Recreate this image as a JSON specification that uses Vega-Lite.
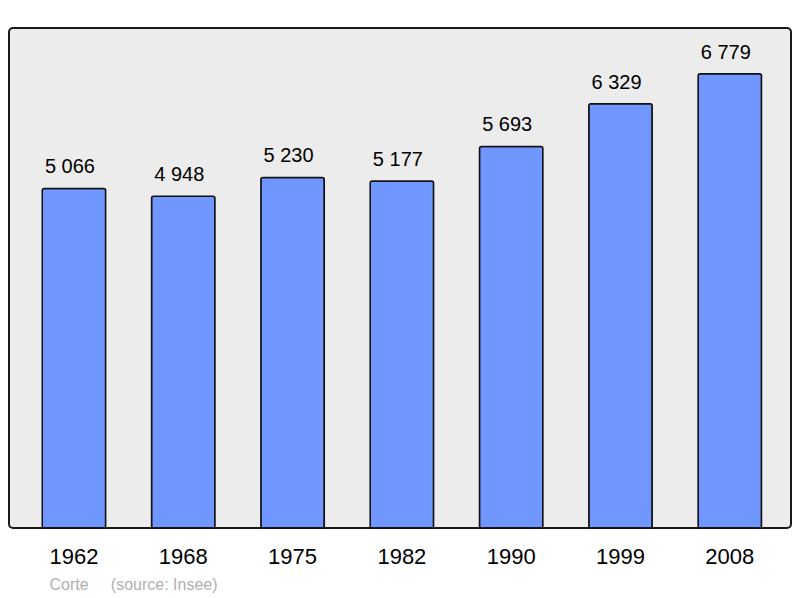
{
  "$schema": "https://vega.github.io/schema/vega-lite/v6.json",
  "width": 782,
  "height": 500,
  "autosize": "none",
  "padding": {"left": 9, "top": 28, "right": 9, "bottom": 70},
  "background": "white",
  "config": {
    "locale": {"number": {"decimal": ",", "thousands": "\u00a0", "grouping": [3], "currency": ["", " €"]}},
    "view": {"fill": "#ececec", "stroke": "#1a1a1a", "strokeWidth": 2, "cornerRadius": 4},
    "font": "Liberation Sans"
  },
  "data": {
    "values": [
      {"year": "1962", "population": 5066},
      {"year": "1968", "population": 4948},
      {"year": "1975", "population": 5230},
      {"year": "1982", "population": 5177},
      {"year": "1990", "population": 5693},
      {"year": "1999", "population": 6329},
      {"year": "2008", "population": 6779}
    ]
  },
  "encoding": {
    "x": {
      "field": "year",
      "type": "ordinal",
      "scale": {"paddingInner": 0.42, "paddingOuter": 0.287, "align": 0.53},
      "axis": {
        "domain": false,
        "ticks": false,
        "labelAngle": 0,
        "labelFontSize": 22,
        "labelColor": "#000",
        "labelBaseline": "alphabetic",
        "labelPadding": 35,
        "title": "Corte\u00a0\u00a0\u00a0\u00a0\u00a0(source: Insee)",
        "titleColor": "#b0b0b0",
        "titleFontSize": 16,
        "titleFontWeight": "normal",
        "titleAlign": "left",
        "titleAnchor": "start",
        "titleBaseline": "alphabetic",
        "titleX": 40,
        "titleY": 61
      }
    },
    "y": {
      "field": "population",
      "type": "quantitative",
      "scale": {"domain": [0, 7460]},
      "axis": null
    }
  },
  "layer": [
    {
      "mark": {"type": "bar", "fill": "#7096ff", "stroke": "#111", "strokeWidth": 1.5, "cornerRadius": 2}
    },
    {
      "mark": {"type": "text", "dy": -15, "dx": -4, "baseline": "alphabetic", "fontSize": 20, "color": "#000"},
      "encoding": {
        "text": {"field": "population", "type": "quantitative", "format": ",d"}
      }
    }
  ]
}
